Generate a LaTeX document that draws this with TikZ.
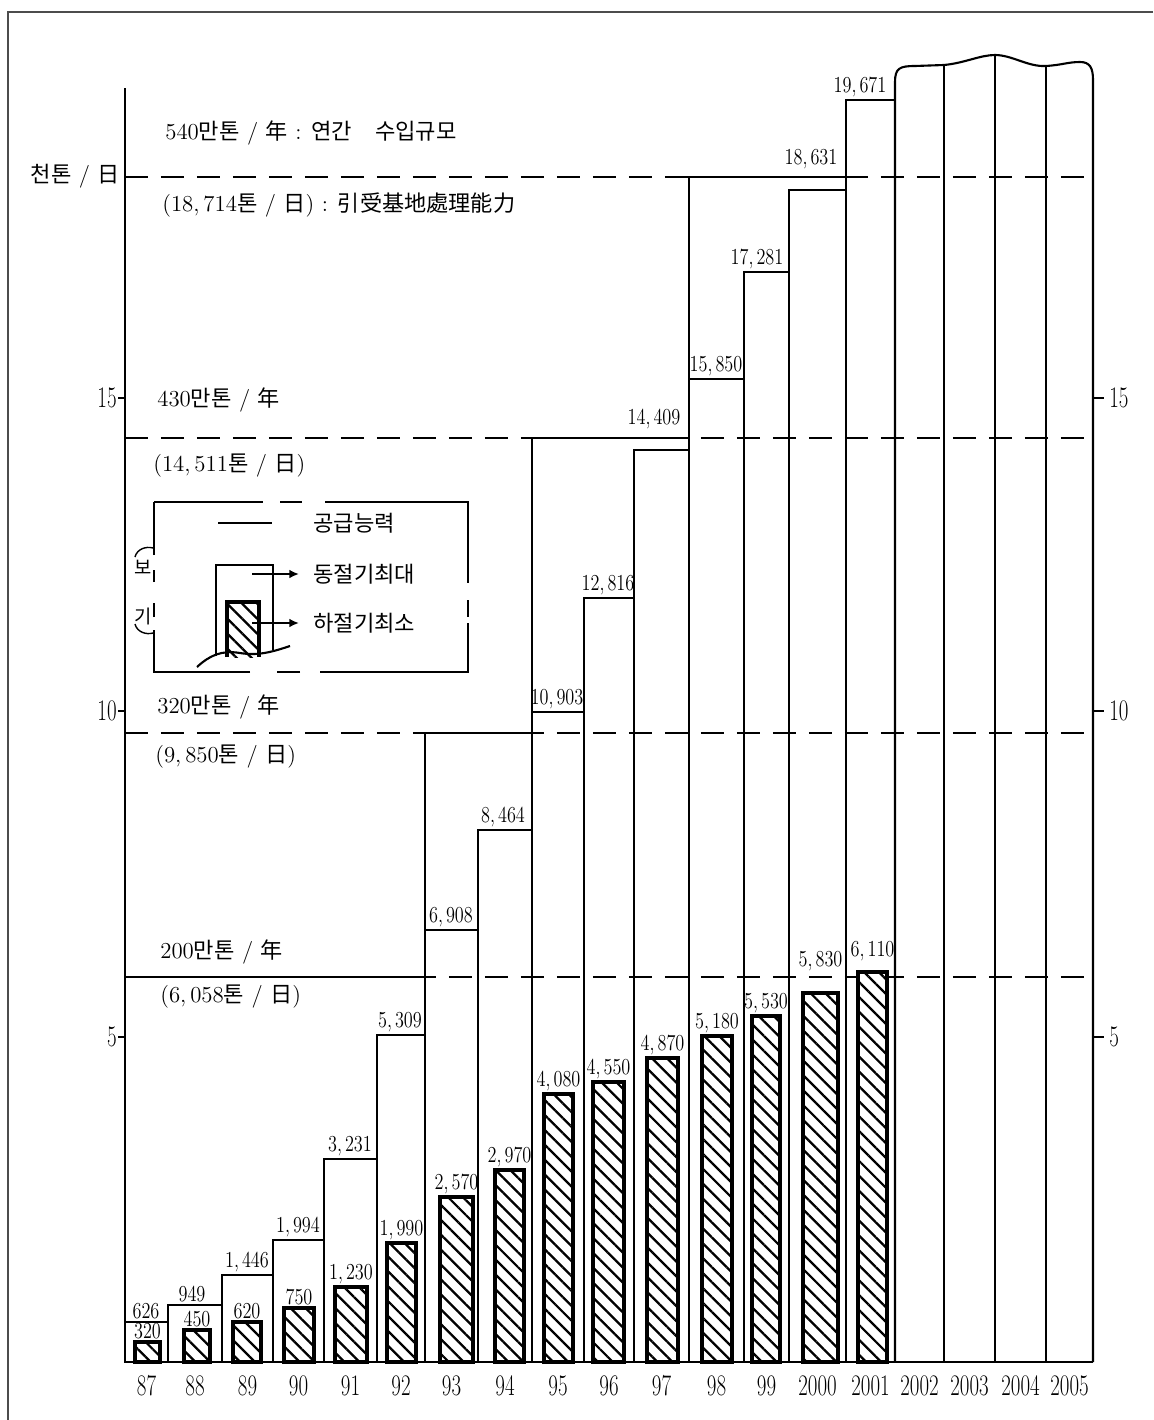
\documentclass[tikz,border=0pt]{standalone}
\usepackage{fontspec}
\usepackage{graphicx}
\newfontfamily\kr{Noto Sans CJK KR}[Scale=0.97]
\usetikzlibrary{arrows.meta,patterns.meta}

\newcommand\thou[2]{#1,\,#2}
\newcommand\yrtext[1]{\scalebox{0.7}[1]{#1}}
\newcommand\numtext[1]{\scalebox{0.8}[1]{#1}}

\begin{document}
\begin{tikzpicture}[x=0.02cm,y=-0.02cm,
  bar/.style={line width=1.2pt},
  hatchbar/.style={line width=1.8pt,preaction={fill=white},
    pattern={Lines[angle=-45,distance=6pt,line width=1.3pt]}},
  level/.style={line width=1.4pt,dash pattern=on 0.46cm off 0.26cm},
  numlab/.style={font=\fontsize{13}{14}\selectfont,inner sep=1.5pt,anchor=south},
  yrlab/.style={font=\fontsize{17}{18}\selectfont,inner sep=0pt},
  note/.style={font=\fontsize{13}{15}\selectfont,anchor=west,inner sep=0pt},
  legarrow/.style={line width=1.1pt,-{Latex[length=5.5pt,width=5pt]},shorten >=0.28cm}]

\useasboundingbox (0,0) rectangle (1153,1420);
\draw[line width=1pt,black!70] (1153,12) -- (8,12) -- (8,1420);

% capacity levels
\foreach \y in {177,438,733,977}
  \draw[level] (125,\y) -- (1093,\y);

\draw[bar] (125,1362) rectangle (425,977);
\draw[bar] (425,1362) rectangle (532,733);
\draw[bar] (532,1362) rectangle (689,438);
\draw[bar] (689,1362) rectangle (846,177);

% supply per year
\foreach \xa/\xb/\top/\lx/\ly/\val/\yr [count=\i] in
 {125/168/1322/146/1322/626/87, 168/222/1305/192/1305/949/88,
  222/273/1275/247/1275/\thou{1}{446}/89, 273/324/1240/298/1240/\thou{1}{994}/90,
  324/377/1159/350/1159/\thou{3}{231}/91, 377/425/1035/400/1035/\thou{5}{309}/92,
  425/478/930/451/930/\thou{6}{908}/93, 478/532/830/503/830/\thou{8}{464}/94,
  532/584/712/557/712/\thou{10}{903}/95, 584/634/598/608/598/\thou{12}{816}/96,
  634/689/450/654/432/\thou{14}{409}/97, 689/744/379/716/379/\thou{15}{850}/98,
  744/789/272/757/272/\thou{17}{281}/99, 789/846/190/811/172/\thou{18}{631}/2000,
  846/895/100/860/100/\thou{19}{671}/2001}
{
\draw[bar] (\xa,1362) rectangle (\xb,\top);
\node[numlab] (cap\i) at (\lx,\ly) {\numtext{\val}};
\node[yrlab] (yr\i) at ({(\xa+\xb)/2},1386) {\yrtext{\yr}};
}

\draw[bar] (895,1362) -- (895,82) .. controls (895,68) and (900,66) .. (915,66)
  -- (944,65) .. controls (965,63) and (980,55) .. (995,55)
  .. controls (1012,55) and (1028,67) .. (1046,66)
  .. controls (1062,65) and (1068,62) .. (1080,62)
  .. controls (1090,62) and (1093,68) .. (1093,80) -- (1093,1362);
\foreach \x/\t in {944/65,995/55,1046/66}
  \draw[bar] (\x,1362) -- (\x,\t);
\foreach \xa/\xb/\yr [count=\i from 16] in {895/944/2002,944/995/2003,995/1046/2004,1046/1093/2005}
  \node[yrlab] (yr\i) at ({(\xa+\xb)/2},1386) {\yrtext{\yr}};

% summer minimum
\foreach \xa/\xb/\top/\ly/\val [count=\i] in
 {135/160/1342/1342/320, 184/210/1330/1330/450, 233/261/1322/1322/620, 284/314/1308/1308/750,
  335/367/1287/1287/\thou{1}{230}, 387/416/1243/1243/\thou{1}{990}, 440/473/1197/1197/\thou{2}{570},
  495/524/1170/1170/\thou{2}{970}, 544/573/1094/1094/\thou{4}{080}, 593/624/1082/1082/\thou{4}{550},
  647/678/1058/1058/\thou{4}{870}, 702/732/1036/1036/\thou{5}{180}, 752/780/1016/1016/\thou{5}{530},
  803/838/993/974/\thou{5}{830}, 858/887/972/964/\thou{6}{110}}
{
\draw[hatchbar] (\xa,1362) rectangle (\xb,\top);
\node[numlab] (min\i) at ({(\xa+\xb)/2},\ly) {\numtext{\val}};
}

% axes
\draw[line width=1.3pt] (125,88) -- (125,1362);
\draw[line width=1.5pt] (125,1362) -- (1093,1362);
\foreach \y/\t in {398/15,711/10,1037/5}
{
\draw[bar] (118,\y) -- (125,\y);
\draw[bar] (1093,\y) -- (1104,\y);
\node[yrlab,anchor=east] (tl\t) at (117,\y) {\yrtext{\t}};
\node[yrlab,anchor=west] (tr\t) at (1109,\y) {\yrtext{\t}};
}
\node[note,anchor=east] (unit) at (120,176) {{\kr 천톤} / {\kr 日}};

% notes on the levels
\node[note] (n540) at (165,133) {540{\kr 만톤} / {\kr 年} : {\kr 연간}\quad{\kr 수입규모}};
\node[note] (d540) at (162,205) {(\thou{18}{714}{\kr 톤} / {\kr 日}) : {\kr 引受基地處理能力}};
\node[note] (n430) at (157,400) {430{\kr 만톤} / {\kr 年}};
\node[note] (d430) at (153,466) {(\thou{14}{511}{\kr 톤} / {\kr 日})};
\node[note] (n320) at (157,707) {320{\kr 만톤} / {\kr 年}};
\node[note] (d320) at (155,757) {(\thou{9}{850}{\kr 톤} / {\kr 日})};
\node[note] (n200) at (160,952) {200{\kr 만톤} / {\kr 年}};
\node[note] (d200) at (160,997) {(\thou{6}{058}{\kr 톤} / {\kr 日})};

% legend
\draw[bar] (154,502) -- (263,502) (280,502) -- (302,502) (325,502) -- (468,502) -- (468,583)
  (468,600) -- (468,617) (468,623) -- (468,672) -- (320,672) (300,672) -- (277,672)
  (250,672) -- (154,672) -- (154,630) (154,617) -- (154,603) (154,582) -- (154,570)
  (154,555) -- (154,502);
\node[font=\fontsize{11}{12}\selectfont,inner sep=0pt] (bo) at (143,567) {{\kr 보}};
\node[font=\fontsize{11}{12}\selectfont,inner sep=0pt] (gi) at (143,616) {{\kr 기}};
\draw[line width=0.8pt] (135,557) .. controls (137,549) and (146,546) .. (153,548);
\draw[line width=0.8pt] (135,624) .. controls (137,632) and (146,635) .. (153,633);

\draw[bar] (218,523) -- (272,523);
\node[note] (lsup) at (313,523) {{\kr 공급능력}};
\draw[bar] (216,656) -- (216,565) -- (273,565) -- (273,650);
\draw[hatchbar] (227,657) -- (227,602) -- (259,602) -- (259,657);
\draw[bar] (197,667) .. controls (210,655) and (222,650) .. (240,653)
  .. controls (258,656) and (272,652) .. (290,646);
\node[note] (lwin) at (313,574) {{\kr 동절기최대}};
\node[note] (lsum) at (313,623) {{\kr 하절기최소}};
\coordinate (pwin) at (252,574);
\coordinate (psum) at (252,623);
\draw[legarrow] (pwin) -- (lwin.west);
\draw[legarrow] (psum) -- (lsum.west);

\end{tikzpicture}
\end{document}
